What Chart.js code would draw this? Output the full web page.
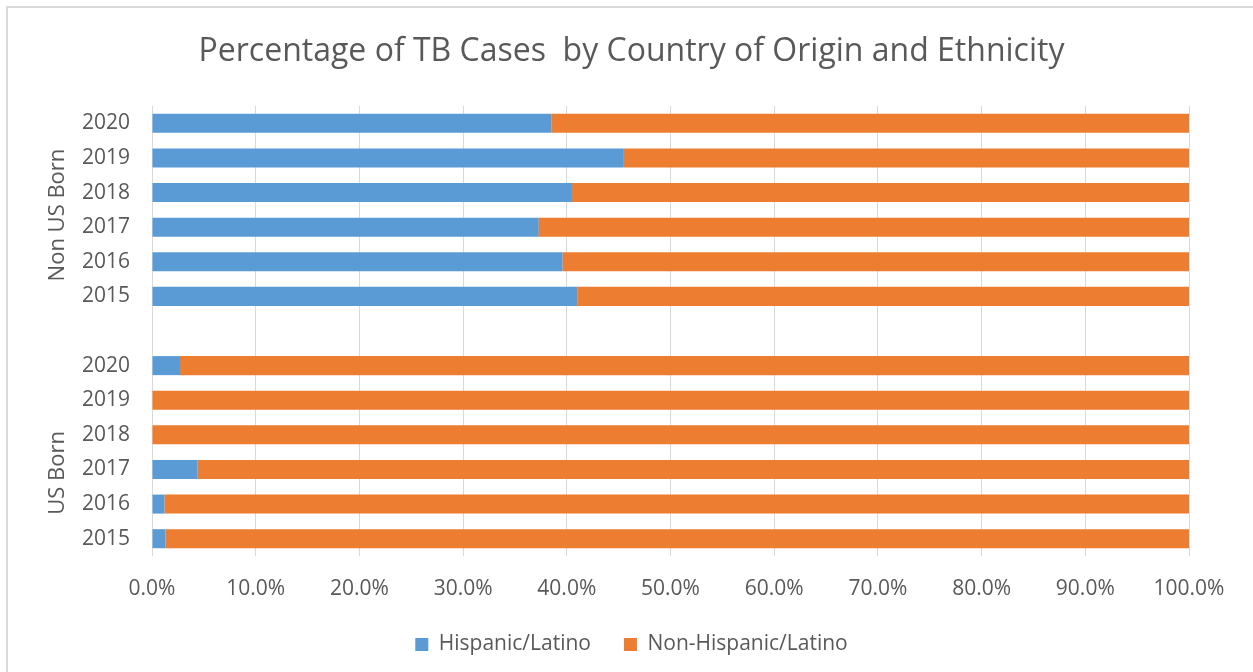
<!DOCTYPE html>
<html>
<head>
<meta charset="utf-8">
<script src="https://cdn.jsdelivr.net/npm/chart.js@4.4.1/dist/chart.umd.min.js"></script>
<style>
  html, body { margin: 0; padding: 0; background: #fff; }
  #wrap { position: relative; width: 1253px; height: 672px; overflow: hidden; }
  #frame { position: absolute; left: 6px; top: 6px; width: 1300px; height: 700px; border-left: 2px solid #d9d9d9; border-top: 2px solid #d9d9d9; box-sizing: border-box; pointer-events: none; }
  canvas { position: absolute; left: 0; top: 0; }
</style>
</head>
<body>
<div id="wrap">
  <canvas id="c" width="1253" height="672"></canvas>
  <div id="frame"></div>
</div>
<script>
// Categories (top to bottom); '' is the spacer between groups
const categories = ['2020', '2019', '2018', '2017', '2016', '2015', '', '2020', '2019', '2018', '2017', '2016', '2015'];
const groupLabels = ['Non US Born', 'US Born'];
// Percent values
const hispanicLatino    = [38.5, 45.5, 40.5, 37.3, 39.6, 41.0, null, 2.7, 0.0, 0.0, 4.4, 1.2, 1.3];
const nonHispanicLatino = [61.5, 54.5, 59.5, 62.7, 60.4, 59.0, null, 97.3, 100.0, 100.0, 95.6, 98.8, 98.7];
const xTicks = [0, 10, 20, 30, 40, 50, 60, 70, 80, 90, 100];

const FONT = "'Open Sans', sans-serif";
const TEXT = '#595959';

const groupLabelPlugin = {
  id: 'groupLabels',
  afterDraw(chart) {
    const y = chart.scales.y;
    const ctx = chart.ctx;
    // group centers expressed as category index positions
    const centers = [2.65, 10.1];
    ctx.save();
    ctx.fillStyle = TEXT;
    ctx.font = "22px " + FONT;
    ctx.textAlign = 'center';
    ctx.textBaseline = 'middle';
    groupLabels.forEach((lab, i) => {
      const py = y.getPixelForValue(centers[i]);
      ctx.save();
      ctx.translate(58, py);
      ctx.rotate(-Math.PI / 2);
      ctx.fillText(lab, 0, 0);
      ctx.restore();
    });
    ctx.restore();
  }
};

new Chart(document.getElementById('c'), {
  type: 'bar',
  data: {
    labels: categories,
    datasets: [
      { label: 'Hispanic/Latino', data: hispanicLatino, backgroundColor: '#5B9BD5', borderWidth: 0,
        barPercentage: 0.55, categoryPercentage: 1.0 },
      { label: 'Non-Hispanic/Latino', data: nonHispanicLatino, backgroundColor: '#ED7D31', borderWidth: 0,
        barPercentage: 0.55, categoryPercentage: 1.0 }
    ]
  },
  options: {
    indexAxis: 'y',
    responsive: false,
    animation: false,
    devicePixelRatio: 1,
    layout: { padding: { left: 10, right: 0, top: 0, bottom: 7 } },
    scales: {
      x: {
        stacked: true,
        min: 0, max: 100,
        afterBuildTicks(scale) { scale.ticks = xTicks.map(v => ({ value: v })); },
        afterFit(scale) { scale.height = 45; },
        grid: { color: '#d9d9d9', lineWidth: 1, drawTicks: false },
        border: { display: false },
        ticks: {
          padding: 20,
          color: TEXT,
          font: { family: FONT, size: 21 },
          maxRotation: 0,
          callback: (v) => Number(v).toFixed(1) + '%'
        }
      },
      y: {
        stacked: true,
        afterFit(scale) { scale.width = 142; },
        grid: { display: false, drawTicks: false },
        border: { display: false },
        ticks: {
          padding: 22,
          color: TEXT,
          font: { family: FONT, size: 21 },
          autoSkip: false
        }
      },
      spacer: {
        type: 'linear',
        position: 'right',
        display: true,
        afterFit(scale) { scale.width = 64; },
        grid: { display: false, drawTicks: false },
        border: { display: false },
        ticks: { display: false }
      }
    },
    plugins: {
      title: {
        display: true,
        text: 'Percentage of TB Cases  by Country of Origin and Ethnicity',
        color: TEXT,
        font: { family: FONT, size: 32, weight: 'normal' },
        padding: { top: 32.8, bottom: 34.8 }
      },
      legend: {
        position: 'bottom',
        labels: {
          boxWidth: 13, boxHeight: 13,
          padding: 33,
          color: TEXT,
          font: { family: FONT, size: 21 }
        }
      },
      tooltip: { enabled: false }
    }
  },
  plugins: [groupLabelPlugin]
});
</script>
</body>
</html>
